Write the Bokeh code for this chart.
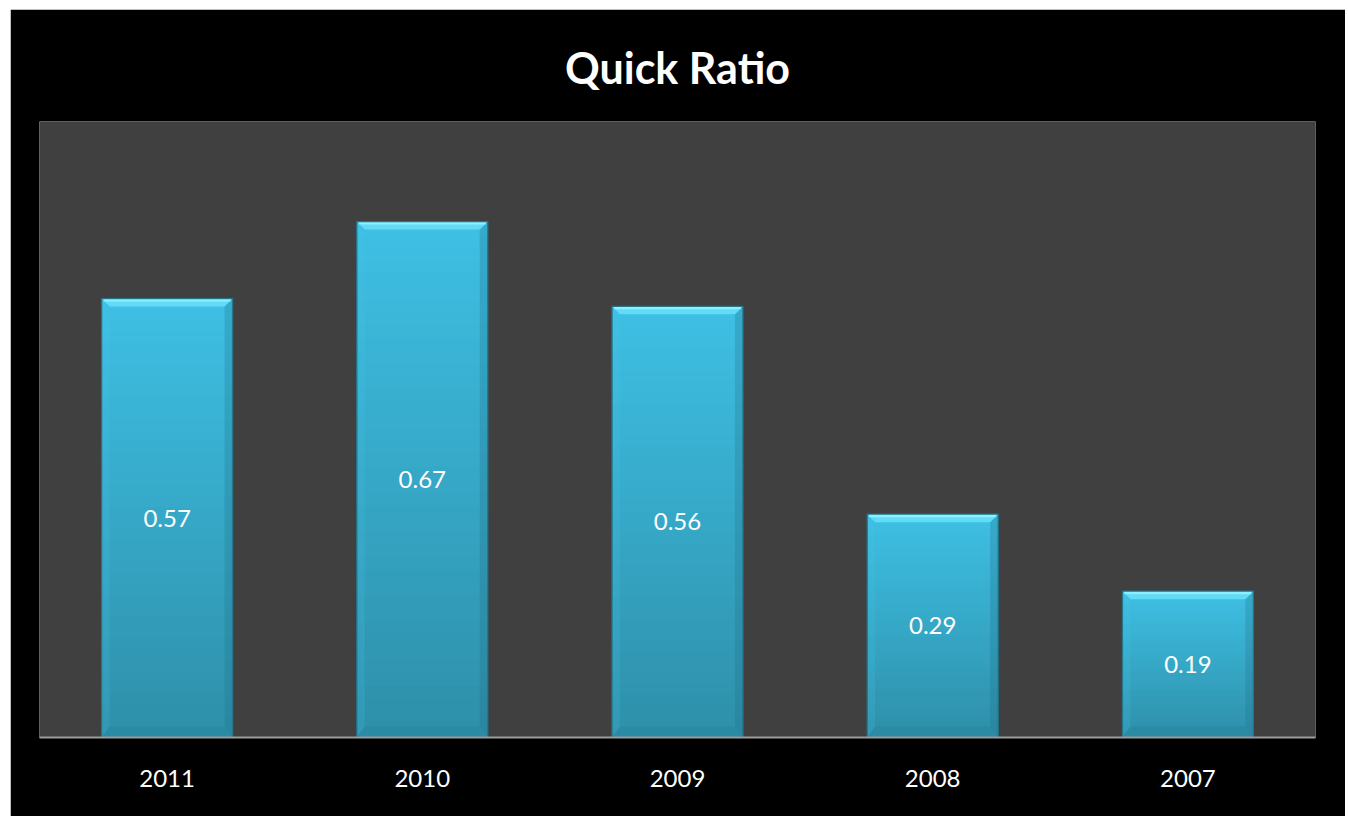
from bokeh.plotting import figure
from bokeh.models import Range1d, FixedTicker, ColumnDataSource
from bokeh.core.properties import value
from bokeh.embed import file_html
from bokeh.resources import INLINE

# Quick ratio by fiscal year
years = ["2011", "2010", "2009", "2008", "2007"]
quick_ratio = [0.57, 0.67, 0.56, 0.29, 0.19]

Y_MAX = 0.8
BAR_W = 0.513
FONT = "Lato"

W, H = 1335, 807
FRAME_L, FRAME_R, FRAME_T, FRAME_B = 29, 30, 112, 79
px_x = (W - FRAME_L - FRAME_R) / len(years)      # pixels per category
px_y = (H - FRAME_T - FRAME_B) / Y_MAX           # pixels per ratio unit

p = figure(width=W, height=H, output_backend="svg", toolbar_location=None,
           x_range=Range1d(0, len(years)), y_range=Range1d(0, Y_MAX),
           min_border_left=FRAME_L, min_border_right=FRAME_R,
           min_border_top=FRAME_T, min_border_bottom=FRAME_B,
           background_fill_color="#404040", border_fill_color="black",
           outline_line_color=None, margin=(9, 0, 0, 10))
p.grid.visible = False
p.yaxis.visible = False

p.title.text = "Quick Ratio"
p.title.align = "center"
p.title.text_color = "white"
p.title.text_font = FONT
p.title.text_font_style = "bold"
p.title.text_font_size = "43px"
p.title.offset = 0
p.title.standoff = 58

centers = [i + 0.5 for i in range(len(years))]


def mix(c1, c2, t):
    a = [int(c1[k:k + 2], 16) for k in (1, 3, 5)]
    b = [int(c2[k:k + 2], 16) for k in (1, 3, 5)]
    return "#%02x%02x%02x" % tuple(round(a[j] + (b[j] - a[j]) * t) for j in range(3))


# bar body: vertical gradient, light at the top, darker at the base
N = 40
TOP_C, BOT_C = "#3ec0e4", "#2e8fa9"
sl = dict(left=[], right=[], bottom=[], top=[], color=[])
for c, v in zip(centers, quick_ratio):
    for k in range(N):
        sl["left"].append(c - BAR_W / 2)
        sl["right"].append(c + BAR_W / 2)
        sl["bottom"].append(v * k / N)
        sl["top"].append(min(v, v * (k + 1.6) / N))
        sl["color"].append(mix(BOT_C, TOP_C, (k + 0.5) / N))
p.quad(left="left", right="right", bottom="bottom", top="top",
       fill_color="color", line_color=None, source=ColumnDataSource(sl))

# bevel facets
bx = 8 / px_x
by_top = 8 / px_y
by_bot = 11 / px_y
top_xs, top_ys, bot_xs, bot_ys = [], [], [], []
lft_xs, lft_ys, rgt_xs, rgt_ys = [], [], [], []
for c, v in zip(centers, quick_ratio):
    x0, x1 = c - BAR_W / 2, c + BAR_W / 2
    top_xs.append([x0, x1, x1 - bx, x0 + bx])
    top_ys.append([v, v, v - by_top, v - by_top])
    bot_xs.append([x0, x1, x1 - bx, x0 + bx])
    bot_ys.append([0, 0, by_bot, by_bot])
    lft_xs.append([x0, x0, x0 + bx, x0 + bx])
    lft_ys.append([0, v, v - by_top, by_bot])
    rgt_xs.append([x1, x1, x1 - bx, x1 - bx])
    rgt_ys.append([0, v, v - by_top, by_bot])

p.patches(lft_xs, lft_ys, fill_color="#46c6e8", fill_alpha=0.18, line_color=None)
p.patches(rgt_xs, rgt_ys, fill_color="#1f6c82", fill_alpha=0.25, line_color=None)
p.patches(bot_xs, bot_ys, fill_color="#2b8aa3", fill_alpha=0.8, line_color=None)
p.patches(top_xs, top_ys, fill_color="#62dbf6", line_color=None)

# bright rim along the upper edge
rim = dict(left=[c - BAR_W / 2 + 2 / px_x for c in centers],
           right=[c + BAR_W / 2 - 2 / px_x for c in centers],
           top=[v for v in quick_ratio],
           bottom=[v - 3 / px_y for v in quick_ratio])
p.quad(left="left", right="right", top="top", bottom="bottom",
       fill_color="#8cf0ff", line_color=None, source=ColumnDataSource(rim))

# bar outline
p.vbar(x=centers, top=quick_ratio, width=BAR_W, bottom=0,
       fill_color=None, line_color="#25758b", line_width=1.3)

# values in the middle of the bars
p.text(x=centers, y=[v / 2 for v in quick_ratio], text=[f"{v:.2f}" for v in quick_ratio],
       text_color="white", text_font=value(FONT), text_font_size="24px",
       text_align="center", text_baseline="middle")

# category axis
p.xaxis.ticker = FixedTicker(ticks=centers)
p.xaxis.major_label_overrides = {c: y for c, y in zip(centers, years)}
p.xaxis.major_label_text_color = "white"
p.xaxis.major_label_text_font = FONT
p.xaxis.major_label_text_font_size = "24px"
p.xaxis.major_label_standoff = 32
p.xaxis.major_tick_line_color = None
p.xaxis.minor_tick_line_color = None
p.xaxis.major_tick_out = 0
p.xaxis.major_tick_in = 0
p.xaxis.axis_line_color = "#9c9c9c"
p.xaxis.axis_line_width = 2

open("out.html", "w").write(file_html(p, INLINE))
